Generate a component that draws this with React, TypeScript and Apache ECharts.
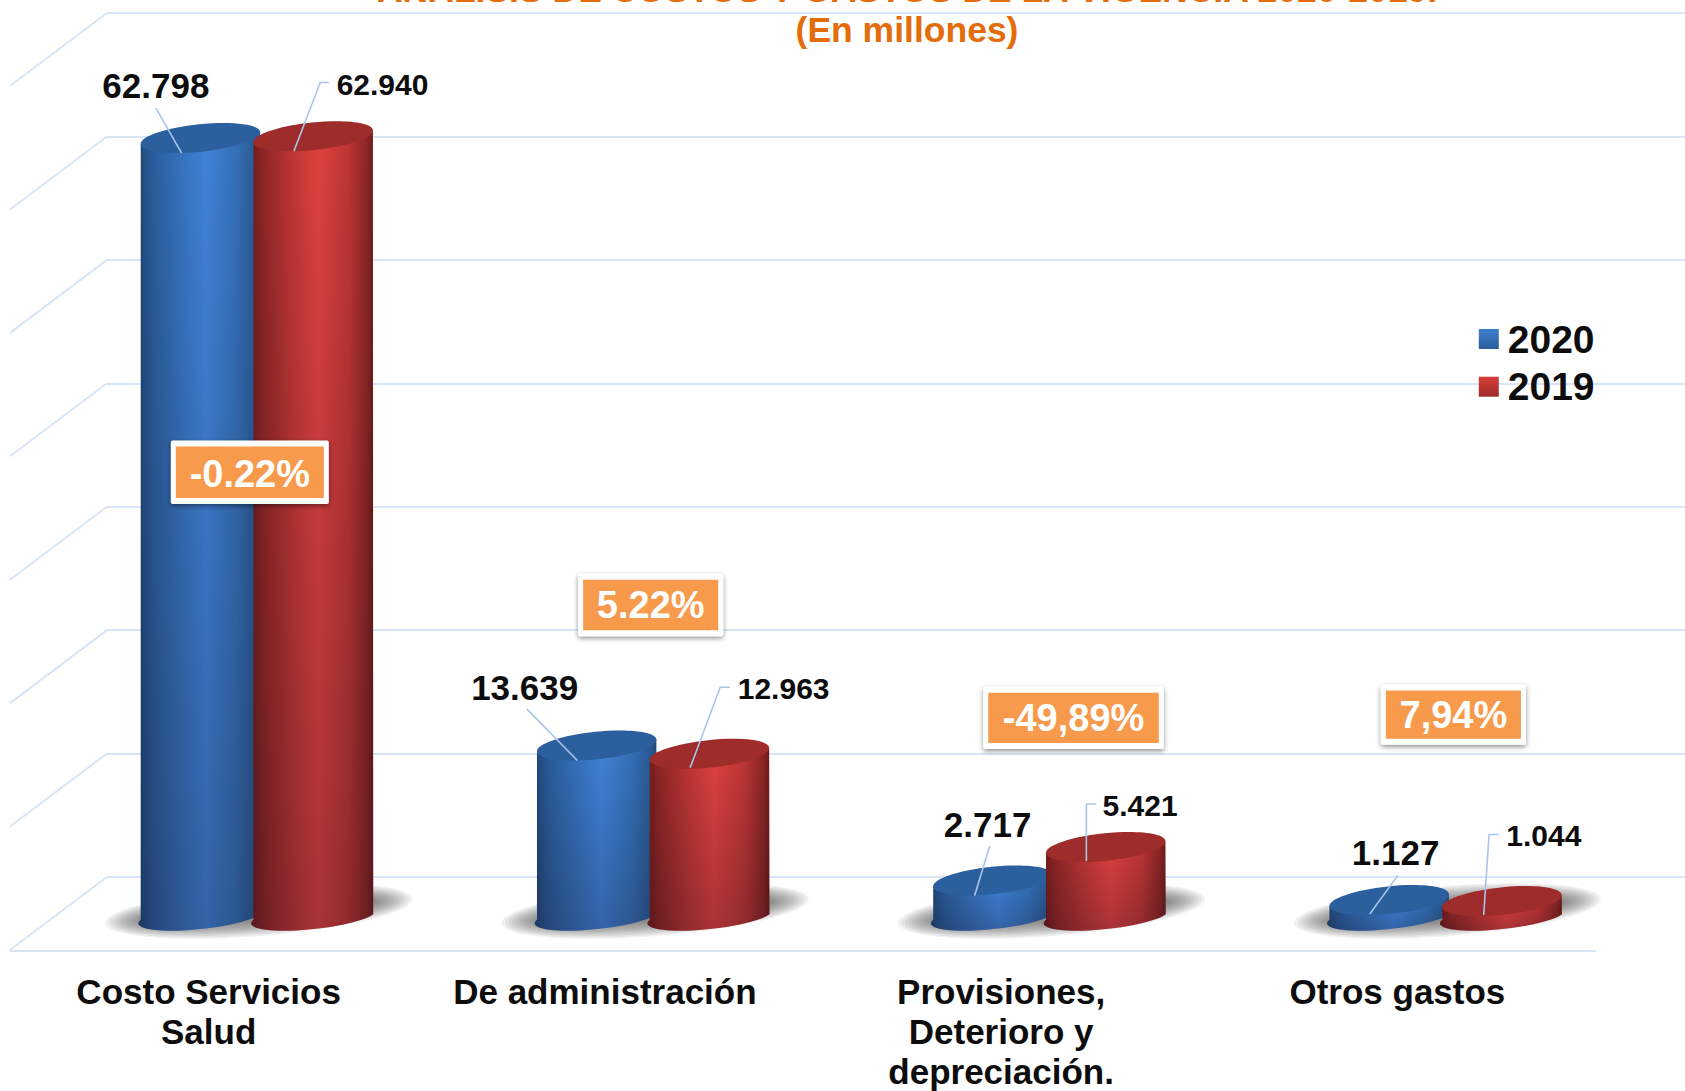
import React, { useEffect, useRef } from "react";
import * as echarts from "echarts";

const categories = ["Costo Servicios\nSalud", "De administración", "Provisiones,\nDeterioro y\ndepreciación.", "Otros gastos"];
const values2020 = [62798, 13639, 2717, 1127];
const values2019 = [62940, 12963, 5421, 1044];
const seriesNames = ["2020", "2019"];
const wallTicks = [0, 10000, 20000, 30000, 40000, 50000, 60000, 70000];
const changeLabels = ["-0.22%", "5.22%", "-49,89%", "7,94%"];
const titleLines = "ANÁLISIS DE COSTOS Y GASTOS DE LA VIGENCIA 2020-2019.\n(En millones)";

// layout, measured in the 1568-wide preview and scaled to the page
const S = 1685 / 1568;
const FONT = '"Liberation Sans", Arial, sans-serif';
const GRID_LINE = "#d9e5f5";
const LEADER = "#a9c6ea";

type Leader = { label: number[]; line: number[][]; size: number };
const leaders2020: Leader[] = [
  { label: [-41.5, -49], line: [[-41.5, -28], [-17.5, 14]], size: 35 },
  { label: [-67, -54], line: [[-65, -34], [-18, 14]], size: 35 },
  { label: [-5, -52], line: [[-3, -32], [-17, 14]], size: 35 },
  { label: [6, -44], line: [[8, -23], [-18, 13]], size: 35 },
];
const leaders2019: Leader[] = [
  { label: [64.5, -48], line: [[14.5, -50], [6.5, -50], [-18, 14]], size: 30 },
  { label: [69, -61], line: [[19, -62], [10, -62], [-18, 13]], size: 30 },
  { label: [32, -39], line: [[-9, -40], [-18, -40], [-18, 13]], size: 30 },
  { label: [39, -61], line: [[-3, -62], [-12, -62], [-17, 13]], size: 30 },
];
const boxes = [
  [159, 410, 147, 59, 1.5],
  [538, 534, 135, 58, 0],
  [915, 639, 168, 58, 0],
  [1285, 637, 135, 56, 0],
];

const hGrad = (stops: [number, string][]) => ({
  type: "linear", x: 0, y: 0, x2: 1, y2: 0,
  colorStops: stops.map(([offset, color]) => ({ offset, color })),
});
const blueBody = hGrad([[0, "#1f4675"], [0.12, "#2a5d9c"], [0.35, "#3672bd"], [0.55, "#3f83d8"], [0.8, "#3470b8"], [0.95, "#2a5a94"], [1, "#234a78"]]);
const redBody = hGrad([[0, "#6e1b1a"], [0.1, "#8e2625"], [0.35, "#c03634"], [0.55, "#de413e"], [0.8, "#bc3533"], [0.95, "#8a2524"], [1, "#6e1b1a"]]);
const darken = {
  type: "linear", x: 0, y: 0, x2: 0, y2: 1,
  colorStops: [{ offset: 0, color: "rgba(20,10,30,0)" }, { offset: 1, color: "rgba(20,10,30,0.26)" }],
};

const RX = 60;
const RY = 13.75;
const BASE_RY = 11.5;
const TILT = 5.9;
const HALF_W = 59.7;
const TAN_Y = 5.85;
const GROUP_OFFSET = 56.4;
const SHADOW_LAYERS = [0, 1, 2, 3, 4, 5, 6, 7, 8, 9, 10, 11];

const fmt = (v: number) => String(v).replace(/\B(?=(\d{3})+$)/g, ".");

function cylinder(side: number, body: any, cap: string, leaders: Leader[]) {
  return (params: any, api: any) => {
    const idx = api.value(0);
    const top = api.coord([idx, api.value(1)]);
    const base = api.coord([idx, 0]);
    const cx = top[0] + side * GROUP_OFFSET;
    const ty = top[1];
    const by = base[1];
    const d =
      `M${cx - HALF_W} ${ty + TAN_Y}L${cx - HALF_W} ${by + TAN_Y}` +
      `A${RX} ${BASE_RY} ${-TILT} 0 0 ${cx + HALF_W} ${by - TAN_Y}L${cx + HALF_W} ${ty - TAN_Y}Z`;
    const L = leaders[idx];
    const points = L.line.map((p) => [cx + p[0] * S, ty + p[1] * S]);
    return {
      type: "group",
      children: [
        { type: "path", shape: { pathData: d }, style: { fill: body } },
        { type: "path", shape: { pathData: d }, style: { fill: darken } },
        {
          type: "ellipse", x: cx, y: ty, rotation: (TILT * Math.PI) / 180,
          shape: { cx: 0, cy: 0, rx: RX, ry: RY }, style: { fill: cap },
        },
        { type: "polyline", shape: { points }, style: { fill: "none", stroke: LEADER, lineWidth: 1.6 } },
        {
          type: "text", x: cx + L.label[0] * S, y: ty + L.label[1] * S,
          style: {
            text: fmt(api.value(1)), fill: "#0d0d0d", font: `bold ${L.size}px ${FONT}`,
            textAlign: "center", textVerticalAlign: "middle",
          },
        },
      ],
    };
  };
}

function floorShadow(params: any, api: any) {
  const idx = api.value(0);
  const base = api.coord([idx, 0]);
  return {
    type: "group",
    children: SHADOW_LAYERS.map((k) => ({
      type: "ellipse", x: base[0] + 2, y: base[1] - 3, rotation: 0.08,
      shape: { cx: 0, cy: 0, rx: 154 - k * 3.5, ry: 25 - k * 1.4 },
      style: { fill: "rgba(70,70,70,0.075)" },
    })),
  };
}

function wallLines(params: any, api: any) {
  const p = api.coord([0, api.value(0)]);
  return {
    type: "line",
    shape: { x1: p[0], y1: p[1], x2: p[0] - 97, y2: p[1] + 73 },
    style: { stroke: GRID_LINE, lineWidth: 2 },
  };
}

const chartOption: any = {
  animation: false,
  backgroundColor: "#ffffff",
  title: {
    text: titleLines, left: 902, top: -35, textAlign: "center",
    textStyle: { color: "#e46c0a", fontFamily: FONT, fontWeight: "bold", fontSize: 35.5, lineHeight: 40 },
  },
  legend: {
    data: seriesNames, orient: "vertical", left: 1473.8, top: 314.5, itemWidth: 20, itemHeight: 20, itemGap: 8.7,
    icon: "rect",
    textStyle: { color: "#0d0d0d", fontFamily: FONT, fontWeight: "bold", fontSize: 39, padding: [0, 0, 0, 4] },
  },
  grid: [
    { left: 107, top: 13, width: 1578, height: 864, outerBoundsMode: "none" },
    { left: 58.7, top: 49, width: 1585, height: 865, outerBoundsMode: "none" },
    { left: 10.5, top: 13, width: 1585, height: 938, outerBoundsMode: "none" },
  ],
  xAxis: [
    { gridIndex: 0, type: "value", min: 0, max: 1, show: false },
    { gridIndex: 1, type: "category", data: categories, show: false },
    {
      gridIndex: 2, type: "category", data: categories,
      axisLine: { show: true, lineStyle: { color: GRID_LINE, width: 2 } },
      axisTick: { show: false },
      axisLabel: {
        interval: 0, margin: 20, color: "#0d0d0d", fontFamily: FONT, fontWeight: "bold", fontSize: 35, lineHeight: 40,
      },
    },
  ],
  yAxis: [
    {
      gridIndex: 0, type: "value", min: 0, max: 70000, interval: 10000,
      axisLine: { show: false }, axisTick: { show: false }, axisLabel: { show: false },
      splitLine: { show: true, lineStyle: { color: GRID_LINE, width: 2 } },
    },
    { gridIndex: 1, type: "value", min: 0, max: 70000, show: false },
    { gridIndex: 2, type: "value", min: 0, max: 70000, show: false },
  ],
  series: [
    {
      type: "custom", xAxisIndex: 0, yAxisIndex: 0, silent: true, clip: false, z: 1,
      data: wallTicks.map((t) => [t]), encode: { y: 0 }, renderItem: wallLines,
    },
    {
      type: "custom", xAxisIndex: 1, yAxisIndex: 1, silent: true, clip: false, z: 2,
      data: categories.map((_, i) => [i, 0]), encode: { x: 0, y: 1 }, renderItem: floorShadow,
    },
    {
      name: seriesNames[0], type: "custom", xAxisIndex: 1, yAxisIndex: 1, clip: false, z: 3,
      itemStyle: { color: { type: "linear", x: 0, y: 0, x2: 0, y2: 1, colorStops: [{ offset: 0, color: "#3f7fd0" }, { offset: 1, color: "#2a5c9a" }] } },
      data: values2020.map((v, i) => [i, v]), encode: { x: 0, y: 1 },
      renderItem: cylinder(-1, blueBody, "#2c5f9e", leaders2020),
    },
    {
      name: seriesNames[1], type: "custom", xAxisIndex: 1, yAxisIndex: 1, clip: false, z: 4,
      itemStyle: { color: { type: "linear", x: 0, y: 0, x2: 0, y2: 1, colorStops: [{ offset: 0, color: "#d53e3b" }, { offset: 1, color: "#9e2b29" }] } },
      data: values2019.map((v, i) => [i, v]), encode: { x: 0, y: 1 },
      renderItem: cylinder(1, redBody, "#9e2c2a", leaders2019),
    },
  ],
  graphic: changeLabels.map((text, i) => {
    const [x, y, w, h] = boxes[i].slice(0, 4).map((n) => n * S);
    const dy = boxes[i][4];
    return {
      type: "group", z: 50,
      children: [
        {
          type: "rect", z: 50, shape: { x, y, width: w, height: h, r: 2 },
          style: { fill: "#ffffff", shadowBlur: 5, shadowColor: "rgba(0,0,0,0.45)", shadowOffsetY: 2 },
        },
        { type: "rect", z: 51, shape: { x: x + 5, y: y + 6, width: w - 10, height: h - 12 }, style: { fill: "#f79a4b" } },
        {
          type: "text", z: 52, x: x + w / 2, y: y + h / 2 + dy,
          style: { text, fill: "#ffffff", font: `bold 38px ${FONT}`, textAlign: "center", textVerticalAlign: "middle" },
        },
      ],
    };
  }),
};

export default function App() {
  const ref = useRef<HTMLDivElement>(null);
  useEffect(() => {
    document.body.style.margin = "0";
    document.body.style.background = "#ffffff";
    const chart = echarts.init(ref.current!, null, { renderer: "svg" });
    chart.setOption(chartOption);
    return () => chart.dispose();
  }, []);
  return <div ref={ref} style={{ width: 1685, height: 1091 }} />;
}
